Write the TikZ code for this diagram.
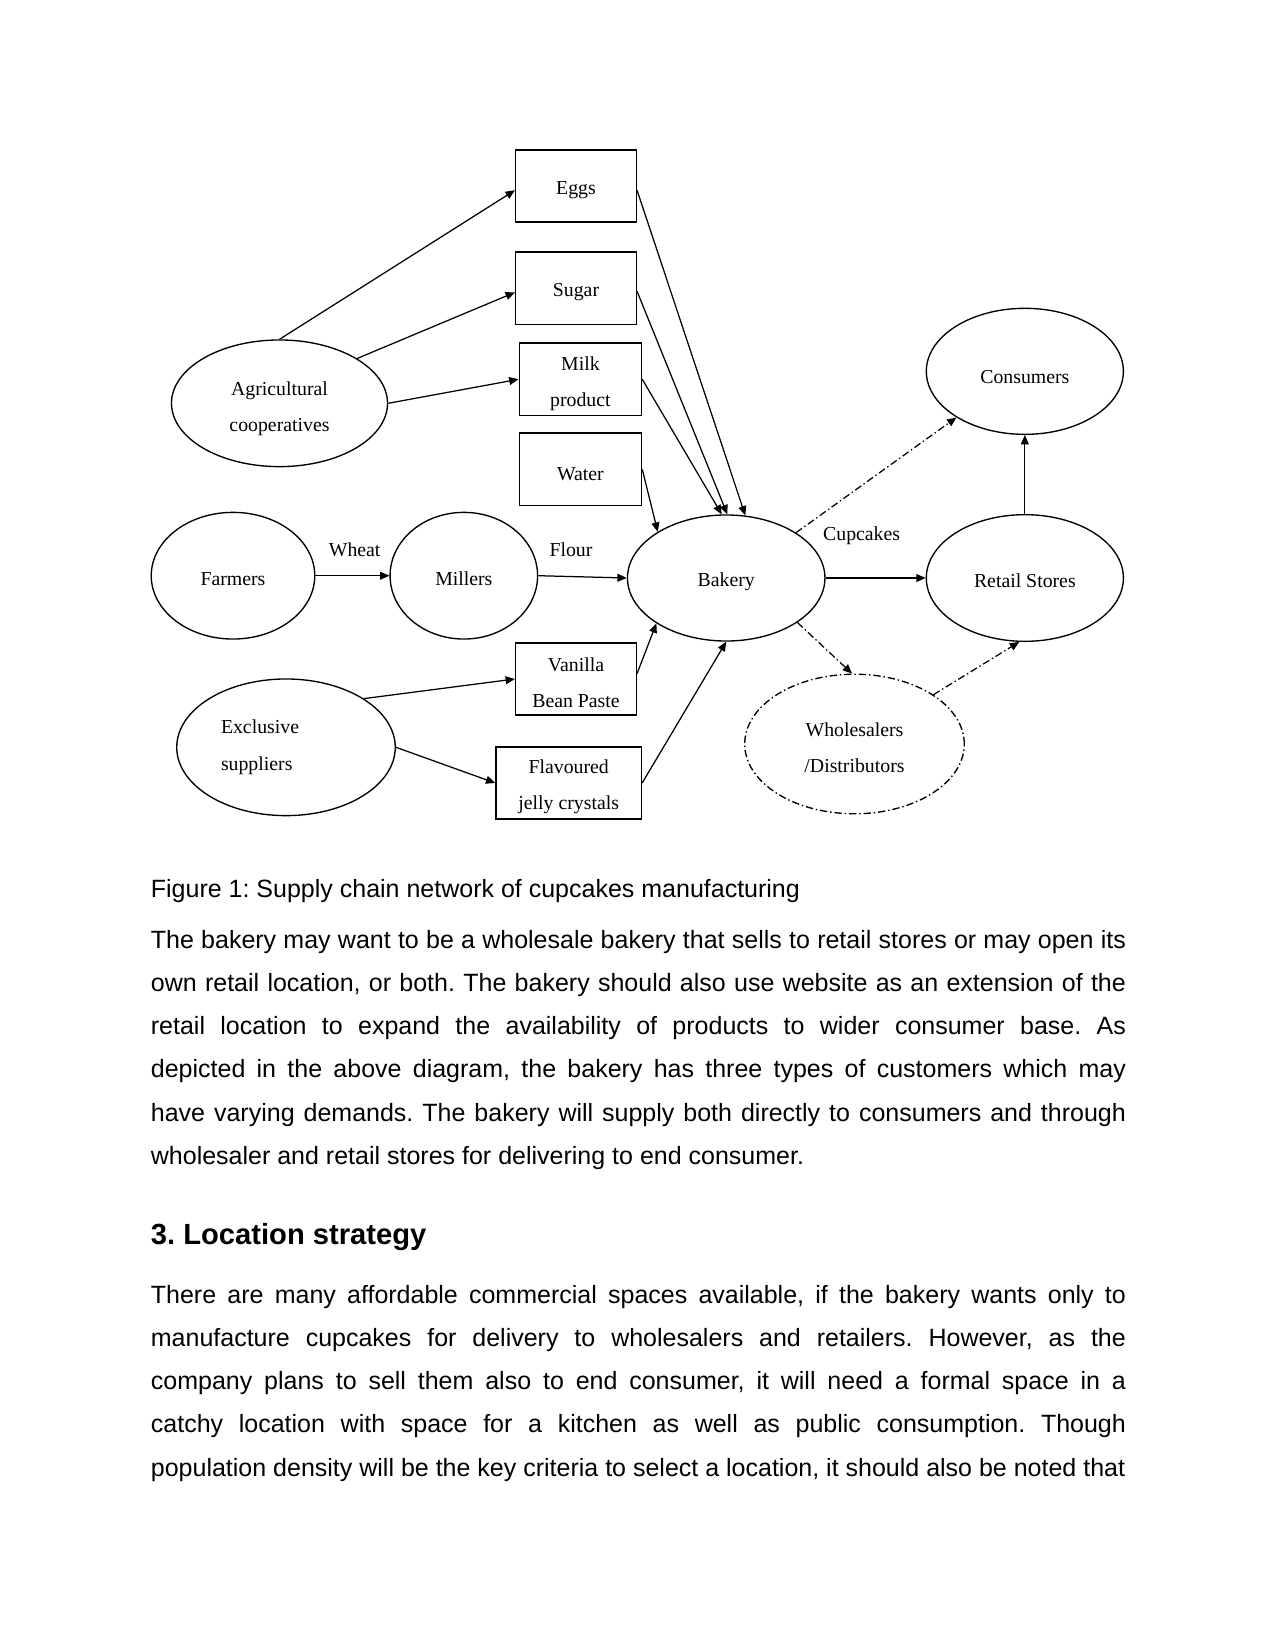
\documentclass[tikz,border=0pt]{standalone}
\usepackage{fontspec}
\setmainfont{Liberation Serif}
\newfontfamily\bodyfont{Liberation Sans}
\usepackage{tikz}
\usetikzlibrary{arrows.meta, positioning, shapes.geometric}
\tolerance=9999
\hyphenpenalty=10000
\frenchspacing
\newcommand{\dn}[1]{\rule{0pt}{#1}}
\newcommand{\bodyspace}{\spaceskip=3.336pt plus 2pt minus 1.2pt\relax}

\begin{document}
\begin{tikzpicture}[
  x=0.48pt, y=-0.48pt,
  ingr/.style={rectangle, draw, line width=0.7pt, inner sep=0pt,
               minimum width=57.9pt, minimum height=34.7pt, align=center,
               font=\fontsize{9.5}{17.4}\selectfont},
  party/.style={ellipse, draw, line width=0.65pt, inner sep=0pt, align=center,
                font=\fontsize{9.5}{17.4}\selectfont},
  dashdot/.style={dash pattern=on 3.5pt off 1.4pt on 0.7pt off 1.4pt},
  flow/.style={-{Triangle[length=4.5pt, width=3.8pt]}, line width=0.6pt},
  dflow/.style={flow, dashdot},
  lbl/.style={anchor=base, inner sep=0pt, font=\fontsize{9.5}{11}\selectfont},
  body/.style={anchor=base west, inner sep=0pt, text width=468pt, align=justify,
               font=\bodyfont\fontsize{12}{20.74}\selectfont\frenchspacing\bodyspace},
]
\useasboundingbox (0,0) rectangle (1275,1651);

\node[ingr] (eggs) at (576,186) {\dn{10.5pt}Eggs};
\node[ingr, below=13.6pt of eggs] (sugar) {\dn{10.5pt}Sugar};
\node[ingr, minimum width=58.7pt] (milk) at (580.4,379.3) {\dn{10.5pt}Milk\\product};
\node[ingr, minimum width=58.7pt, below=7.8pt of milk] (water) {\dn{10.5pt}Water};
\node[ingr] (vanilla) at (576,679) {\dn{10.5pt}Vanilla\\Bean Paste};
\node[ingr, minimum width=69.8pt] (flavoured) at (568.7,783) {\dn{10.5pt}Flavoured\\jelly crystals};

\node[party, minimum width=103.7pt, minimum height=60.8pt] (agri) at (279.5,403.3)
  {\dn{11.5pt}Agricultural\\cooperatives};
\node[party, minimum width=78.5pt, minimum height=60.8pt] (farmers) at (233,575.7) {\dn{9.5pt}Farmers};
\node[party, minimum width=70.8pt, minimum height=60.8pt, right=35.5pt of farmers] (millers) {\dn{9.5pt}Millers};
\node[party, minimum width=104.9pt, minimum height=65.6pt, text width=62.4pt, align=left]
  (exclusive) at (286,747.3) {Exclusive\\suppliers};
\node[party, minimum width=94.8pt, minimum height=60.5pt] (bakery) at (726.2,578) {\dn{10.5pt}Bakery};
\node[party, minimum width=94.6pt, minimum height=60.8pt, right=48pt of bakery] (retail) {\dn{9.5pt}Retail Stores};
\node[party, minimum width=94.6pt, minimum height=60.5pt, above=37.9pt of retail] (consumers) {\dn{11.5pt}Consumers};
\node[party, dashdot, minimum width=105.4pt, minimum height=67pt] (wholesalers) at (854.5,744)
  {\dn{10pt}Wholesalers\\/Distributors};

\draw[flow] (agri.north) -- (eggs.184);
\draw[flow] (agri.30) -- (sugar.184);
\draw[flow] (agri.east) -- (milk.west);
\draw[flow] (eggs.-4) -- (bakery.73);
\draw[flow] (sugar.-3) -- (bakery.89);
\draw[flow] (milk.east) -- (bakery.94);
\draw[flow] (water.east) -- (bakery.146);
\draw[flow] (farmers) -- node[lbl, pos=0.53, yshift=9.3pt]{Wheat} (millers);
\draw[flow] (millers.east) -- node[lbl, pos=0.37, yshift=9.5pt]{Flour} (bakery.west);
\draw[flow] (exclusive.32) -- (vanilla.west);
\draw[flow] (exclusive.east) -- (flavoured.west);
\draw[flow] (vanilla.5) -- (bakery.213);
\draw[flow] (flavoured.east) -- (bakery.south);
\draw[flow] (bakery.east) -- node[lbl, pos=0.36, yshift=17.9pt]{Cupcakes} (retail.west);
\draw[flow] (retail.north) -- (consumers.south);
\draw[dflow] (bakery.33) -- (consumers.214);
\draw[dflow] (bakery.328) -- (wholesalers.92);
\draw[dflow] (wholesalers.32) -- (retail.265);

\node[anchor=base west, inner sep=0pt, font=\bodyfont\fontsize{12}{14}\selectfont]
  (caption) at (150.5,897.7) {Figure 1: Supply chain network of cupcakes manufacturing};
\node[body] (para1) at (150.5,948.3)
  {The bakery may want to be a wholesale bakery that sells to retail stores or may open its\linebreak
   own retail location, or both. The bakery should also use website as an extension of the\linebreak
   retail location to expand the availability of products to wider consumer base. As\linebreak
   depicted in the above diagram, the bakery has three types of customers which may\linebreak
   have varying demands. The bakery will supply both directly to consumers and through\linebreak
   wholesaler and retail stores for delivering to end consumer.};
\node[anchor=base west, inner sep=0pt, font=\bodyfont\bfseries\fontsize{14}{16}\selectfont]
  (heading) at (150.5,1244.3) {3. Location strategy};
\node[body] (para2) at (150.5,1303.3)
  {\parfillskip=0pt There are many affordable commercial spaces available, if the bakery wants only to\linebreak
   manufacture cupcakes for delivery to wholesalers and retailers. However, as the\linebreak
   company plans to sell them also to end consumer, it will need a formal space in a\linebreak
   catchy location with space for a kitchen as well as public consumption. Though\linebreak
   population density will be the key criteria to select a location, it should also be noted~that};
\end{tikzpicture}
\end{document}
